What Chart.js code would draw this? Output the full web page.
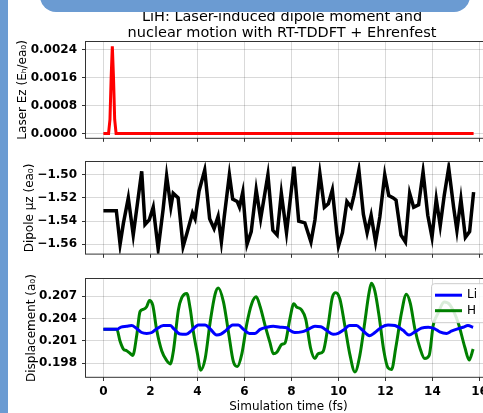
<!DOCTYPE html>
<html>
<head>
<meta charset="utf-8">
<script src="https://cdn.jsdelivr.net/npm/chart.js@4/dist/chart.umd.min.js"></script>
<style>
  html, body { margin:0; padding:0; background:#fff; }
  #wrap { position:relative; width:483px; height:413px; overflow:hidden; background:#fff; }
  canvas { position:absolute; left:0; }
  .frame { position:absolute; background:#6b9bd2; }
</style>
</head>
<body>
<div id="wrap">
  <canvas id="laserChart" width="564" height="150" style="top:0"></canvas>
  <canvas id="dipoleChart" width="564" height="116" style="top:150px"></canvas>
  <canvas id="dispChart" width="564" height="146" style="top:267px"></canvas>
  <div class="frame" style="left:0;top:0;width:8px;height:413px"></div>
  <div class="frame" style="left:40px;top:-20px;width:430px;height:32px;border-radius:0 0 16px 16px"></div>
</div>
<script>
const titleLines = ['LiH: Laser-induced dipole moment and', 'nuclear motion with RT-TDDFT + Ehrenfest'];
const xTicks = [0, 2, 4, 6, 8, 10, 12, 14, 16];
const laserTicks = [0, 0.0008, 0.0016, 0.0024];
const dipoleTicks = [-1.56, -1.54, -1.52, -1.50];
const dispTicks = [0.198, 0.201, 0.204, 0.207];

// laser pulse
const laserTime = [0, 0.22, 0.28, 0.33, 0.38, 0.43, 0.48, 0.54, 15.75];
const laserField = [0, 0, 0.0004, 0.0016, 0.0025, 0.0016, 0.0004, 0, 0];

// dipole moment
const dipoleTime = [0, 0.55, 0.71, 0.85, 1.06, 1.27, 1.63, 1.77, 1.95, 2.12, 2.33, 2.54, 2.69, 2.87, 2.97,
  3.18, 3.39, 3.56, 3.79, 3.9, 4.07, 4.31, 4.52, 4.71, 4.88, 5.02, 5.14, 5.36, 5.5, 5.69, 5.79, 5.93,
  6.11, 6.29, 6.5, 6.69, 7.0, 7.21, 7.39, 7.57, 7.79, 8.11, 8.31, 8.57, 8.83, 9.0, 9.21, 9.4, 9.57,
  9.74, 9.93, 10.0, 10.17, 10.36, 10.54, 10.66, 10.87, 11.06, 11.22, 11.39, 11.58, 11.76, 11.97,
  12.14, 12.33, 12.45, 12.66, 12.85, 13.03, 13.2, 13.41, 13.6, 13.8, 13.98, 14.16, 14.33, 14.5,
  14.69, 14.9, 15.04, 15.21, 15.4, 15.58, 15.75];
const dipoleValue = [-1.531, -1.531, -1.560, -1.542, -1.520, -1.552, -1.497, -1.543, -1.539, -1.528,
  -1.564, -1.530, -1.501, -1.528, -1.516, -1.520, -1.562, -1.550, -1.533, -1.538, -1.514, -1.496,
  -1.538, -1.5465, -1.536, -1.558, -1.5365, -1.500, -1.521, -1.523, -1.528, -1.515, -1.560, -1.549,
  -1.513, -1.538, -1.500, -1.548, -1.552, -1.516, -1.550, -1.493, -1.540, -1.5415, -1.558, -1.539,
  -1.499, -1.528, -1.525, -1.513, -1.550, -1.5616, -1.550, -1.523, -1.528, -1.518, -1.496, -1.534,
  -1.550, -1.535, -1.558, -1.5365, -1.500, -1.518, -1.520, -1.522, -1.552, -1.558, -1.516, -1.528,
  -1.526, -1.4975, -1.535, -1.554, -1.521, -1.544, -1.518, -1.494, -1.528, -1.548, -1.521, -1.554,
  -1.549, -1.515];

// nuclear displacement
const liTime = [0, 0.57, 0.75, 0.99, 1.2, 1.4, 1.63, 1.84, 2.06, 2.27, 2.55, 2.84, 3.0, 3.26, 3.52,
  3.76, 4.04, 4.33, 4.54, 4.82, 5.0, 5.22, 5.5, 5.74, 5.96, 6.21, 6.45, 6.67, 6.95, 7.23, 7.52, 7.8,
  7.93, 8.14, 8.43, 8.71, 9.0, 9.25, 9.49, 9.77, 9.99, 10.2, 10.48, 10.77, 10.98, 11.33, 11.55,
  11.83, 12.11, 12.4, 12.75, 13.0, 13.25, 13.53, 13.82, 14.1, 14.31, 14.6, 14.8, 15.09, 15.3, 15.51, 15.73];
const liDisp = [0.20254, 0.20254, 0.20285, 0.20296, 0.20305, 0.2027, 0.20212, 0.202, 0.20212, 0.20262,
  0.20305, 0.20305, 0.2026, 0.20191, 0.20187, 0.20241, 0.20313, 0.20313, 0.20262, 0.20178, 0.2019,
  0.20241, 0.20313, 0.20313, 0.20254, 0.202, 0.202, 0.20254, 0.20283, 0.20296, 0.20283, 0.20275,
  0.20241, 0.20212, 0.2022, 0.20254, 0.20296, 0.2029, 0.20241, 0.20187, 0.202, 0.20241, 0.20305,
  0.20305, 0.20255, 0.2017, 0.20212, 0.20283, 0.20313, 0.20305, 0.20241, 0.20178, 0.2022, 0.20271,
  0.20283, 0.20262, 0.2022, 0.202, 0.20229, 0.20262, 0.20283, 0.20305, 0.20283];
const hTime = [0, 0.57, 0.71, 0.85, 0.99, 1.13, 1.25, 1.42, 1.56, 1.70, 1.84, 1.96, 2.1, 2.27, 2.48,
  2.70, 2.84, 2.98, 3.19, 3.33, 3.55, 3.69, 3.83, 4.0, 4.14, 4.33, 4.54, 4.75, 4.89, 5.11, 5.32,
  5.53, 5.70, 5.89, 6.1, 6.31, 6.5, 6.67, 6.88, 7.09, 7.23, 7.38, 7.59, 7.73, 7.93, 8.1, 8.21, 8.43,
  8.61, 8.81, 9.0, 9.13, 9.35, 9.56, 9.74, 9.89, 10.06, 10.27, 10.48, 10.7, 10.91, 11.12, 11.29,
  11.4, 11.55, 11.73, 11.93, 12.11, 12.26, 12.44, 12.68, 12.89, 13.06, 13.25, 13.46, 13.67, 13.86,
  14.03, 14.24, 14.5, 14.75, 15.09, 15.38, 15.56, 15.73];
const hDisp = [0.20254, 0.20254, 0.20094, 0.1999, 0.19968, 0.19934, 0.19905, 0.20178, 0.20494, 0.20523,
  0.20557, 0.20641, 0.20578, 0.20241, 0.19968, 0.19833, 0.19791, 0.19968, 0.20515, 0.20675, 0.20734,
  0.20536, 0.2022, 0.19926, 0.19707, 0.19863, 0.20347, 0.20725, 0.2081, 0.2062, 0.2022, 0.19821,
  0.19757, 0.19926, 0.20326, 0.20599, 0.20692, 0.20557, 0.20305, 0.20073, 0.19926, 0.19947, 0.20052,
  0.20073, 0.20389, 0.20599, 0.20557, 0.20515, 0.20389, 0.2001, 0.19863, 0.19926, 0.1996, 0.20305,
  0.20683, 0.20746, 0.20662, 0.20305, 0.19926, 0.19682, 0.19905, 0.20347, 0.20725, 0.20873, 0.20767,
  0.20431, 0.19968, 0.19737, 0.19716, 0.2001, 0.20473, 0.20725, 0.20599, 0.20263, 0.2001, 0.19863,
  0.19905, 0.20305, 0.20473, 0.2062, 0.2058, 0.20347, 0.2001, 0.19842, 0.1999];

Chart.defaults.font.family = '"DejaVu Sans", sans-serif';
Chart.defaults.color = '#000';
Chart.defaults.animation = false;

const pts = (xs, ys) => xs.map((x, i) => ({ x: x, y: ys[i] }));
const gridColor = 'rgba(0,0,0,0.15)';

// matplotlib-like spines
const spines = {
  id: 'spines',
  afterDatasetsDraw(chart) {
    const a = chart.chartArea, ctx = chart.ctx;
    ctx.save();
    ctx.strokeStyle = '#333';
    ctx.lineWidth = 1;
    ctx.strokeRect(Math.round(a.left) - 0.5, Math.round(a.top) - 0.5, a.right - a.left + 1, a.bottom - a.top + 1);
    ctx.restore();
  }
};

// two line figure title, centred like the original
const figTitle = {
  id: 'figTitle',
  afterDraw(chart) {
    const ctx = chart.ctx;
    ctx.save();
    ctx.font = '14.5px "DejaVu Sans"';
    ctx.fillStyle = '#000';
    ctx.textAlign = 'center';
    ctx.textBaseline = 'middle';
    titleLines.forEach((t, i) => ctx.fillText(t, 282, 17 + i * 16));
    ctx.restore();
  }
};

const boxLegend = {
  id: 'boxLegend',
  afterDraw(chart) {
    const a = chart.chartArea, ctx = chart.ctx;
    const x = a.right - 60, y = a.top + 4;
    ctx.save();
    ctx.fillStyle = 'rgba(255,255,255,0.85)';
    ctx.strokeStyle = '#cccccc';
    ctx.lineWidth = 1;
    ctx.beginPath();
    ctx.roundRect(x + 0.5, y + 0.5, 90, 39, 3);
    ctx.fill();
    ctx.stroke();
    chart.data.datasets.forEach((ds, i) => {
      const ly = y + 12 + i * 15.5;
      ctx.strokeStyle = ds.borderColor;
      ctx.lineWidth = ds.borderWidth;
      ctx.beginPath();
      ctx.moveTo(x + 4, ly);
      ctx.lineTo(x + 31, ly);
      ctx.stroke();
      ctx.fillStyle = '#000';
      ctx.font = '12px "DejaVu Sans"';
      ctx.textBaseline = 'middle';
      ctx.fillText(ds.label, x + 36, ly);
    });
    ctx.restore();
  }
};

function xAxis(bottom) {
  return {
    type: 'linear', min: -0.74, max: 16.49,
    afterFit: s => { s.height = bottom ? 36 : 4; },
    afterBuildTicks: s => { s.ticks = xTicks.map(v => ({ value: v })); },
    grid: { color: gridColor, tickColor: '#333', tickLength: 4 },
    border: { display: false },
    ticks: { display: bottom, padding: 4, autoSkip: false, maxRotation: 0, font: { size: 12, weight: 'bold' } },
    title: { display: bottom, text: 'Simulation time (fs)', font: { size: 12 }, padding: { top: 0, bottom: -1 } }
  };
}

function yAxis(ticks, fmt, title, pad, min, max) {
  return {
    min: min, max: max,
    afterFit: s => { s.width = 86; },
    afterBuildTicks: s => { s.ticks = ticks.map(v => ({ value: v })); },
    grid: { color: gridColor, tickColor: '#333', tickLength: 4 },
    border: { display: false },
    ticks: { padding: 5, callback: fmt, font: { size: 12, weight: 'bold' } },
    title: { display: true, text: title, font: { size: 12 }, padding: { top: pad, bottom: 0 } }
  };
}

new Chart(document.getElementById('laserChart'), {
  type: 'line',
  data: { datasets: [{ label: 'Laser', data: pts(laserTime, laserField), borderColor: '#ff0000', borderWidth: 3, pointRadius: 0 }] },
  options: {
    responsive: false,
    devicePixelRatio: 1,
    layout: { padding: { left: 0, right: 73, top: 42, bottom: 0 } },
    plugins: { legend: { display: false }, tooltip: { enabled: false } },
    scales: {
      x: xAxis(false),
      y: yAxis(laserTicks, v => v.toFixed(4), 'Laser Ez (Eₕ/ea₀)', 16, -0.000125, 0.002625)
    }
  },
  plugins: [spines, figTitle]
});

new Chart(document.getElementById('dipoleChart'), {
  type: 'line',
  data: { datasets: [{ label: 'Dipole', data: pts(dipoleTime, dipoleValue), borderColor: '#000000', borderWidth: 3.5, pointRadius: 0, tension: 0 }] },
  options: {
    responsive: false,
    devicePixelRatio: 1,
    layout: { padding: { left: 0, right: 73, top: 6, bottom: 0 } },
    plugins: { legend: { display: false }, tooltip: { enabled: false } },
    scales: {
      x: xAxis(false),
      y: yAxis(dipoleTicks, v => '\u2212' + Math.abs(v).toFixed(2), 'Dipole μz (ea₀)', 23, -1.5682, -1.4892)
    }
  },
  plugins: [spines]
});

new Chart(document.getElementById('dispChart'), {
  type: 'line',
  data: {
    datasets: [
      { label: 'Li', data: pts(liTime, liDisp), borderColor: '#0000ff', borderWidth: 3, pointRadius: 0, cubicInterpolationMode: 'monotone' },
      { label: 'H', data: pts(hTime, hDisp), borderColor: '#008000', borderWidth: 3, pointRadius: 0, cubicInterpolationMode: 'monotone' }
    ]
  },
  options: {
    responsive: false,
    devicePixelRatio: 1,
    layout: { padding: { left: 0, right: 73, top: 6, bottom: 0 } },
    plugins: { legend: { display: false }, tooltip: { enabled: false } },
    scales: {
      x: xAxis(true),
      y: yAxis(dispTicks, v => v.toFixed(3), 'Displacement (a₀)', 25, 0.19615, 0.20927)
    }
  },
  plugins: [spines, boxLegend]
});
</script>
</body>
</html>
